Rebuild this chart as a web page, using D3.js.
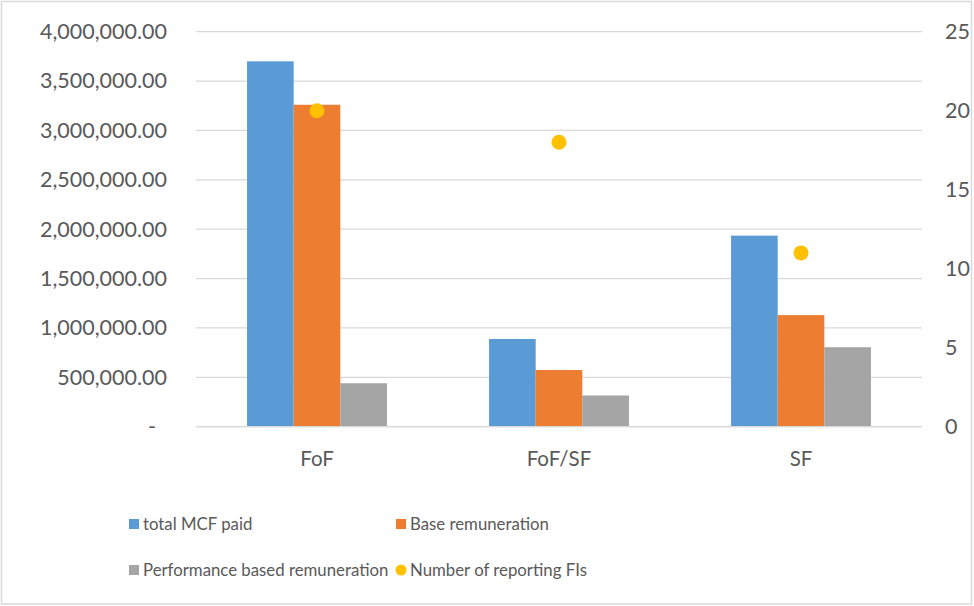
<!DOCTYPE html>
<html>
<head>
<meta charset="utf-8">
<script src="https://cdnjs.cloudflare.com/ajax/libs/d3/7.8.5/d3.min.js"></script>
<style>
  html, body { margin: 0; padding: 0; background: #fff; }
  svg { display: block; }
  text { font-family: Lato, "Open Sans", sans-serif; fill: #595959; }
</style>
</head>
<body>
<svg id="chart" width="974" height="606"></svg>
<script>
// Fund types on the x axis
const categories = ["FoF", "FoF/SF", "SF"];

// Remuneration series (left axis)
const seriesNames = ["total MCF paid", "Base remuneration", "Performance based remuneration"];
const totalMCF = [3700000, 888000, 1935000];
const baseRemuneration = [3260000, 574000, 1130000];
const performanceRemuneration = [440000, 316000, 805000];

// Count series (right axis)
const fiSeriesName = "Number of reporting FIs";
const reportingFIs = [20, 18, 11];

// Axis ticks
const leftTicks = [0, 500000, 1000000, 1500000, 2000000, 2500000, 3000000, 3500000, 4000000];
const rightTicks = [0, 5, 10, 15, 20, 25];

const colors = ["#5b9bd5", "#ed7d31", "#a5a5a5"];
const dotColor = "#ffc000";

const svg = d3.select("#chart");
const W = 974, H = 606;

// chart frame
svg.append("rect")
  .attr("x", 1.5).attr("y", 1.5)
  .attr("width", W - 4).attr("height", H - 3.5)
  .attr("fill", "#fff").attr("stroke", "#d9d9d9").attr("stroke-width", 1.5);

const plot = { left: 196, right: 922, top: 31.7, bottom: 426.7 };

const x = d3.scaleBand().domain(categories).range([plot.left, plot.right]).paddingInner(0).paddingOuter(0);
const yL = d3.scaleLinear().domain([0, 4000000]).range([plot.bottom, plot.top]);
const yR = d3.scaleLinear().domain([0, 25]).range([plot.bottom, plot.top]);

// bar width follows a gap of 219% of one bar
const gapRatio = 2.19;
const barW = x.bandwidth() / (3 + gapRatio);
const xs = d3.scaleBand().domain(d3.range(3)).range([0, barW * 3]).padding(0);

// gridlines
svg.append("g").selectAll("line").data(leftTicks).join("line")
  .attr("x1", plot.left).attr("x2", plot.right)
  .attr("y1", d => yL(d)).attr("y2", d => yL(d))
  .attr("stroke", "#d9d9d9").attr("stroke-width", 1.3);

const fontStack = "Lato, 'Open Sans', sans-serif";

// left axis labels
const fmt = d => d === 0 ? "-" : d3.format(",.2f")(d);
const leftAxis = d3.axisLeft(yL).tickValues(leftTicks).tickFormat(fmt).tickSize(0).tickPadding(0);
const gL = svg.append("g").attr("transform", `translate(167,0)`).call(leftAxis);
gL.select(".domain").remove();
gL.selectAll("text").style("font-size", "21.5px").attr("fill", "#595959")
  .style("font-family", fontStack)
  .attr("dx", d => d === 0 ? "-11px" : 0);

// right axis labels
const rightAxis = d3.axisRight(yR).tickValues(rightTicks).tickSize(0).tickPadding(0);
const gR = svg.append("g").attr("transform", `translate(945,0)`).call(rightAxis);
gR.select(".domain").remove();
gR.selectAll("text").style("font-size", "21.5px").attr("fill", "#595959")
  .style("font-family", fontStack);

// bars
const seriesValues = [totalMCF, baseRemuneration, performanceRemuneration];
categories.forEach((c, i) => {
  const gx = x(c) + (x.bandwidth() - barW * 3) / 2;
  const g = svg.append("g").attr("transform", `translate(${gx},0)`);
  g.selectAll("rect").data(seriesValues.map((s, k) => ({ k, v: s[i] }))).join("rect")
    .attr("x", d => xs(d.k))
    .attr("width", xs.bandwidth())
    .attr("y", d => yL(d.v))
    .attr("height", d => yL(0) - yL(d.v))
    .attr("fill", d => colors[d.k]);
});

// points for reporting FIs
svg.append("g").selectAll("circle").data(categories).join("circle")
  .attr("cx", d => x(d) + x.bandwidth() / 2)
  .attr("cy", (d, i) => yR(reportingFIs[i]))
  .attr("r", 7.5)
  .attr("fill", dotColor);

// category labels
const xAxis = d3.axisBottom(x).tickSize(0).tickPadding(0);
const gX = svg.append("g").attr("transform", `translate(0,${plot.bottom + 25})`).call(xAxis);
gX.select(".domain").remove();
gX.selectAll("text").style("font-size", "20.5px").attr("fill", "#595959")
  .style("font-family", fontStack);

// baseline
svg.append("line")
  .attr("x1", plot.left).attr("x2", plot.right)
  .attr("y1", plot.bottom).attr("y2", plot.bottom)
  .attr("stroke", "#d9d9d9").attr("stroke-width", 1.3);

// legend
const legendItems = [
  { name: seriesNames[0], color: colors[0], shape: "rect", x: 129, y: 524 },
  { name: seriesNames[1], color: colors[1], shape: "rect", x: 396, y: 524 },
  { name: seriesNames[2], color: colors[2], shape: "rect", x: 129, y: 570 },
  { name: fiSeriesName, color: dotColor, shape: "circle", x: 396, y: 570 }
];
const lg = svg.append("g");
legendItems.forEach(it => {
  if (it.shape === "rect") {
    lg.append("rect").attr("x", it.x).attr("y", it.y - 5).attr("width", 10).attr("height", 10).attr("fill", it.color);
  } else {
    lg.append("circle").attr("cx", it.x + 5).attr("cy", it.y).attr("r", 5.5).attr("fill", it.color);
  }
  lg.append("text").attr("x", it.x + 14).attr("y", it.y).attr("dy", "0.36em")
    .style("font-size", "16.8px").text(it.name);
});
</script>
</body>
</html>
